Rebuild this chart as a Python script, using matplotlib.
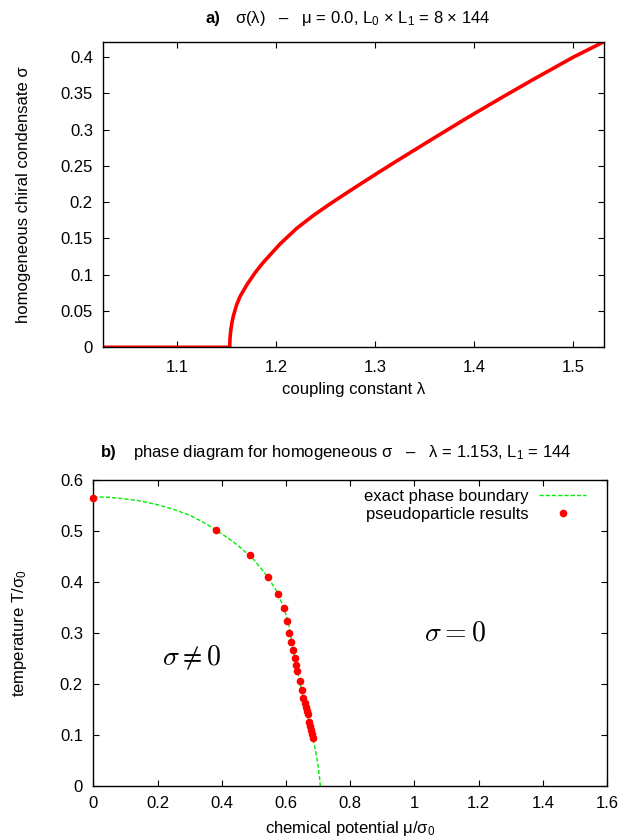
import numpy as np
import matplotlib
matplotlib.use('Agg')
import matplotlib.pyplot as plt
from matplotlib.ticker import FormatStrFormatter

plt.rcParams['font.family'] = ['Liberation Sans', 'DejaVu Sans']
plt.rcParams['mathtext.fontset'] = 'custom'
plt.rcParams['mathtext.rm'] = 'Liberation Sans'
plt.rcParams['mathtext.it'] = 'Liberation Sans'
FS = 12

# a) sigma(lambda), mu = 0
lam = [1.0252, 1.153, 1.1533, 1.154, 1.1553, 1.1566, 1.16, 1.1634, 1.1702, 1.1786,
       1.187, 1.2038, 1.2207, 1.2375, 1.2544, 1.2712, 1.2881, 1.305, 1.3218, 1.3555,
       1.3926, 1.43, 1.46, 1.5, 1.5315]
sigma = [0, 0, 0.012, 0.0225, 0.034, 0.0425, 0.0585, 0.0697, 0.0858, 0.1026,
         0.117, 0.1422, 0.1638, 0.1815, 0.1975, 0.2126, 0.2275, 0.2422, 0.2566, 0.2849,
         0.3157, 0.3456, 0.369, 0.3994, 0.421]

# b) phase diagram
mu_exact = [0, 0.05, 0.1, 0.15, 0.2, 0.25, 0.3, 0.34, 0.38, 0.42, 0.45, 0.5, 0.54,
            0.57, 0.59, 0.608, 0.62, 0.635, 0.65, 0.665, 0.68, 0.692, 0.70, 0.705, 0.7071]
T_exact = [0.567, 0.566, 0.563, 0.5585, 0.5515, 0.5425, 0.531, 0.518, 0.503, 0.486,
           0.472, 0.444, 0.413, 0.383, 0.355, 0.32, 0.275, 0.228, 0.185, 0.145,
           0.105, 0.07, 0.04, 0.015, 0.0]

mu_pp = [0, 0.3824, 0.4879, 0.5426, 0.5747, 0.5933, 0.6036, 0.6098, 0.616, 0.6222,
         0.6274, 0.6315, 0.6357, 0.6429, 0.6491, 0.6543, 0.6584, 0.6615, 0.6646,
         0.6677, 0.6718, 0.676, 0.679, 0.6822, 0.6853]
T_pp = [0.5654, 0.502, 0.452, 0.4105, 0.3765, 0.3484, 0.3235, 0.3007, 0.2817, 0.266,
        0.251, 0.2379, 0.2261, 0.2052, 0.1882, 0.1732, 0.1621, 0.1542, 0.1477,
        0.1405, 0.1261, 0.1176, 0.1098, 0.1013, 0.0948]

W, H = 634, 840
fig = plt.figure(figsize=(W/100, H/100), dpi=100)

def gnu_axes(ax, xpad):
    ax.tick_params(direction='in', which='both', top=True, right=True, length=4.5,
                   width=0.8, labelsize=FS)
    ax.tick_params(axis='x', pad=xpad)
    ax.tick_params(axis='y', pad=7.5)
    for s in ax.spines.values():
        s.set_linewidth(1.0)

# ---- panel a ----
ax1 = fig.add_axes([103.3/W, 1-347.3/H, (604-103.3)/W, (347.3-41.7)/H])
ax1.plot(lam, sigma, color='#ff0000', lw=2.6, solid_capstyle='butt')
ax1.set_xlim(1.0252, 1.5315)
ax1.set_ylim(0, 0.421)
ax1.set_xticks([1.1, 1.2, 1.3, 1.4, 1.5])
ax1.set_yticks(np.arange(0, 0.401, 0.05))
ax1.yaxis.set_major_formatter(FormatStrFormatter('%g'))
ax1.xaxis.set_major_formatter(FormatStrFormatter('%g'))
gnu_axes(ax1, 9)
ax1.set_xlabel('coupling constant λ', fontsize=FS)
ax1.set_ylabel('homogeneous chiral condensate σ', fontsize=FS)
ax1.xaxis.set_label_coords(0.5, -0.112)
ax1.yaxis.set_label_coords(-0.145, 0.5)

fig.text(220.5/W, 1-18/H, 'a)', fontsize=FS, fontweight='bold', ha='right', va='center')
fig.text(235/W, 1-18/H, r'σ(λ)   –   μ = 0.0, L$_0$ × L$_1$ = 8 × 144',
         fontsize=FS, ha='left', va='center')

# ---- panel b ----
ax2 = fig.add_axes([93.3/W, 1-786/H, (607-93.3)/W, 306/H])
ax2.plot(mu_exact, T_exact, color='#00ee00', lw=1.0, ls=(0, (3, 1.5)),
         label='exact phase boundary')
ax2.plot(mu_pp, T_pp, ls='none', marker='o', ms=5.5, color='#ff0000',
         markeredgewidth=0, label='pseudoparticle results', clip_on=False, zorder=3)
ax2.set_xlim(0, 1.6)
ax2.set_ylim(0, 0.6)
ax2.set_xticks(np.arange(0, 1.61, 0.2))
ax2.set_yticks(np.arange(0, 0.61, 0.1))
ax2.xaxis.set_major_formatter(FormatStrFormatter('%g'))
ax2.yaxis.set_major_formatter(FormatStrFormatter('%g'))
gnu_axes(ax2, 7.5)
ax2.set_xlabel(r'chemical potential μ/σ$_0$', fontsize=FS)
ax2.set_ylabel(r'temperature T/σ$_0$', fontsize=FS)
ax2.xaxis.set_label_coords(0.5, -0.108)
ax2.yaxis.set_label_coords(-0.126, 0.5)
ax2.legend(loc='upper right', frameon=False, markerfirst=False, fontsize=FS,
           handlelength=2.8, handletextpad=0.66, labelspacing=0.18,
           borderpad=0, borderaxespad=0, bbox_to_anchor=(0.959, 0.972))

ax2.text(0.306, 0.252, r'$\sigma \neq 0$', fontsize=20, ha='center', va='center',
         math_fontfamily='cm')
ax2.text(1.127, 0.299, r'$\sigma = 0$', fontsize=20, ha='center', va='center',
         math_fontfamily='cm')

fig.text(116.6/W, 1-453/H, 'b)', fontsize=FS, fontweight='bold', ha='right', va='center')
fig.text(132.6/W, 1-453/H, r'phase diagram for homogeneous σ   –   λ = 1.153, L$_1$ = 144',
         fontsize=FS, ha='left', va='center')

fig.savefig('out.png', dpi=100)
